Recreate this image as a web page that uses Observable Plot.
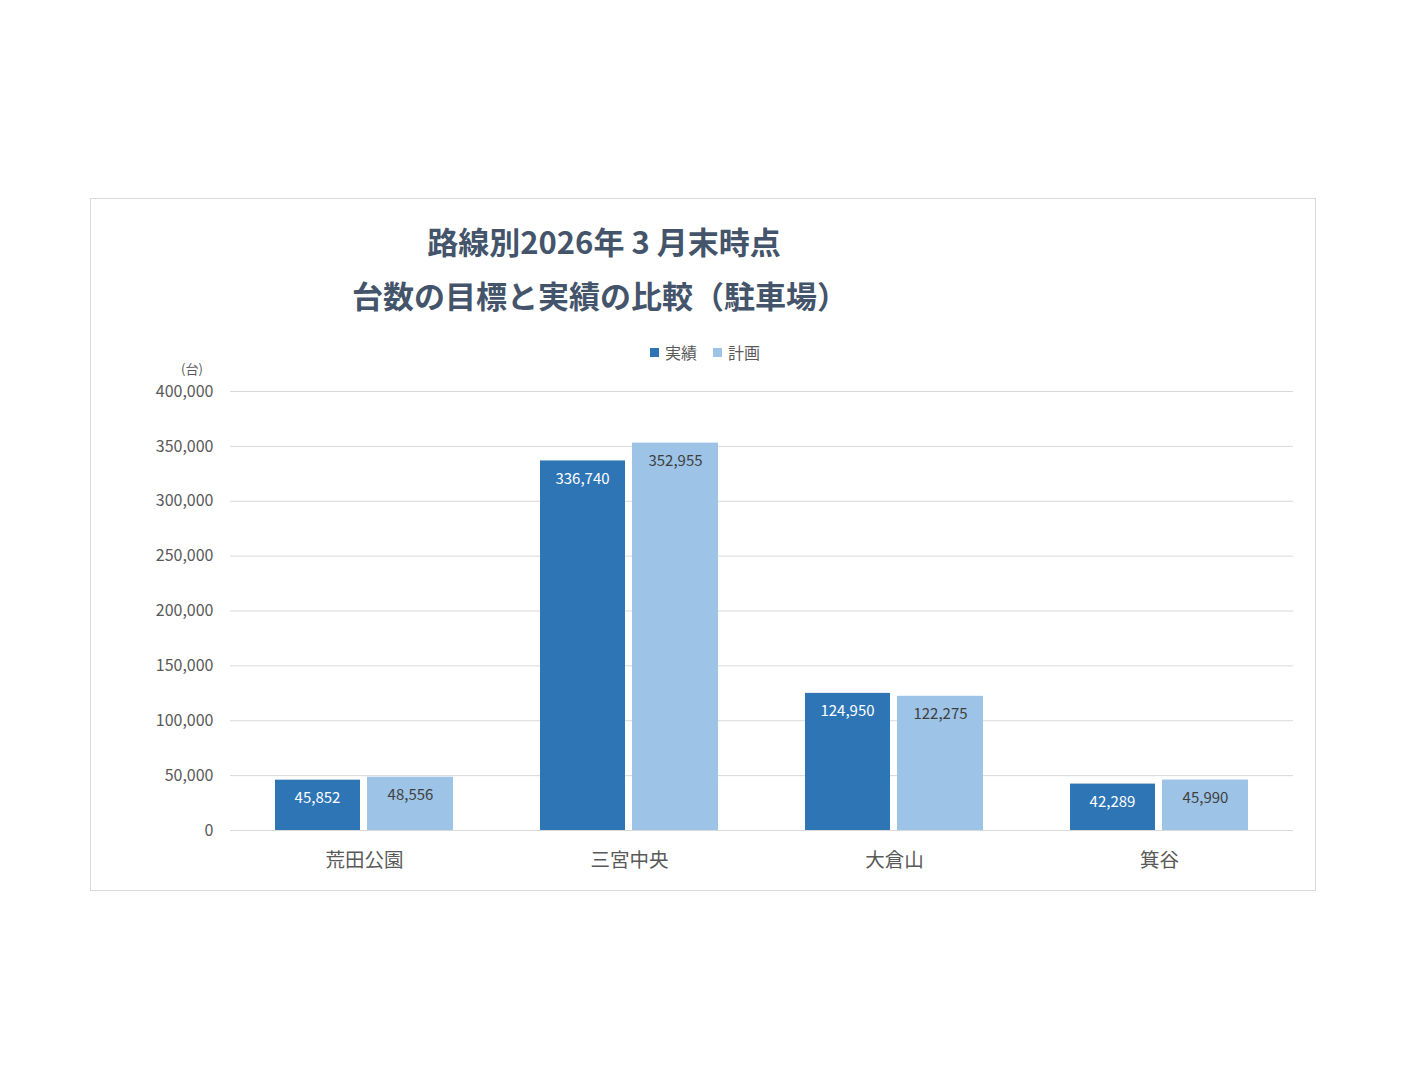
<!DOCTYPE html>
<html>
<head>
<meta charset="utf-8">
<script src="https://cdn.jsdelivr.net/npm/d3@7"></script>
<script src="https://cdn.jsdelivr.net/npm/@observablehq/plot@0.6"></script>
<style>
  html, body { margin: 0; padding: 0; background: #fff; }
  body { font-family: "Noto Sans CJK JP", "Noto Sans", sans-serif; }
  #page { position: relative; width: 1408px; height: 1088px; overflow: hidden; }
  #frame { position: absolute; left: 90px; top: 198px; width: 1226px; height: 693px; box-sizing: border-box; border: 1px solid #d9d9d9; }
  #title { position: absolute; left: 300px; width: 600px; top: 214px; text-align: center; color: #44546A; font-weight: bold; font-size: 31px; line-height: 54px; white-space: nowrap; }
  #title .l1 { position: relative; left: 4px; }
  #legend { position: absolute; top: 340px; left: 650px; font-size: 16px; color: #595959; display: flex; align-items: center; white-space: nowrap; }
  #legend .sw { display: inline-block; width: 9px; height: 9px; margin-right: 6px; }
  #legend .item { display: flex; align-items: center; margin-right: 16px; }
  #unit { position: absolute; left: 181px; top: 362px; font-size: 13px; line-height: 13px; color: #595959; }
  #chart { position: absolute; left: 130px; top: 360px; }
</style>
</head>
<body>
<div id="page">
  <div id="frame"></div>
  <div id="title"><span class="l1">路線別2026年 3 月末時点</span><br>台数の目標と実績の比較（駐車場）</div>
  <div id="legend"></div>
  <div id="unit">(台)</div>
  <div id="chart"></div>
</div>
<script>
const categories = ["荒田公園", "三宮中央", "大倉山", "箕谷"];
const seriesNames = ["実績", "計画"];
const actualValues = [45852, 336740, 124950, 42289];
const planValues = [48556, 352955, 122275, 45990];
const yTicks = [0, 50000, 100000, 150000, 200000, 250000, 300000, 350000, 400000];
const seriesColors = ["#2E75B6", "#9DC3E6"];
const labelColors = ["#ffffff", "#404040"];

const actualRows = categories.map((c, i) => ({category: c, series: seriesNames[0], value: actualValues[i]}));
const planRows = categories.map((c, i) => ({category: c, series: seriesNames[1], value: planValues[i]}));
const fmt = d3.format(",");

// legend
const legend = document.getElementById("legend");
seriesNames.forEach((s, i) => {
  const item = document.createElement("span");
  item.className = "item";
  const sw = document.createElement("span");
  sw.className = "sw";
  sw.style.background = seriesColors[i];
  item.appendChild(sw);
  item.appendChild(document.createTextNode(s));
  legend.appendChild(item);
});

const chart = Plot.plot({
  width: 1180,
  height: 530,
  marginLeft: 100,
  marginRight: 17,
  marginTop: 31,
  marginBottom: 60,
  style: {fontFamily: '"Noto Sans CJK JP", "Noto Sans", sans-serif', color: "#595959", background: "transparent", overflow: "visible"},
  x: {domain: categories, paddingInner: 0.33, paddingOuter: 0.165},
  y: {domain: [0, 400000]},
  marks: [
    Plot.ruleY(yTicks, {stroke: "#d9d9d9", strokeWidth: 1}),
    Plot.barY(actualRows, {x: "category", y: "value", fill: seriesColors[0], insetRight: 93}),
    Plot.barY(planRows, {x: "category", y: "value", fill: seriesColors[1], insetLeft: 92}),
    Plot.text(actualRows, {x: "category", y: "value", text: d => fmt(d.value), dx: -47, dy: 18, fill: labelColors[0], fontSize: 15}),
    Plot.text(planRows, {x: "category", y: "value", text: d => fmt(d.value), dx: 46, dy: 18, fill: labelColors[1], fontSize: 15}),
    Plot.axisY(yTicks, {tickSize: 0, tickPadding: 17, tickFormat: fmt, fontSize: 16, label: null}),
    Plot.axisX({tickSize: 0, tickPadding: 23, fontSize: 19.5, label: null})
  ]
});
document.getElementById("chart").appendChild(chart);
</script>
</body>
</html>
